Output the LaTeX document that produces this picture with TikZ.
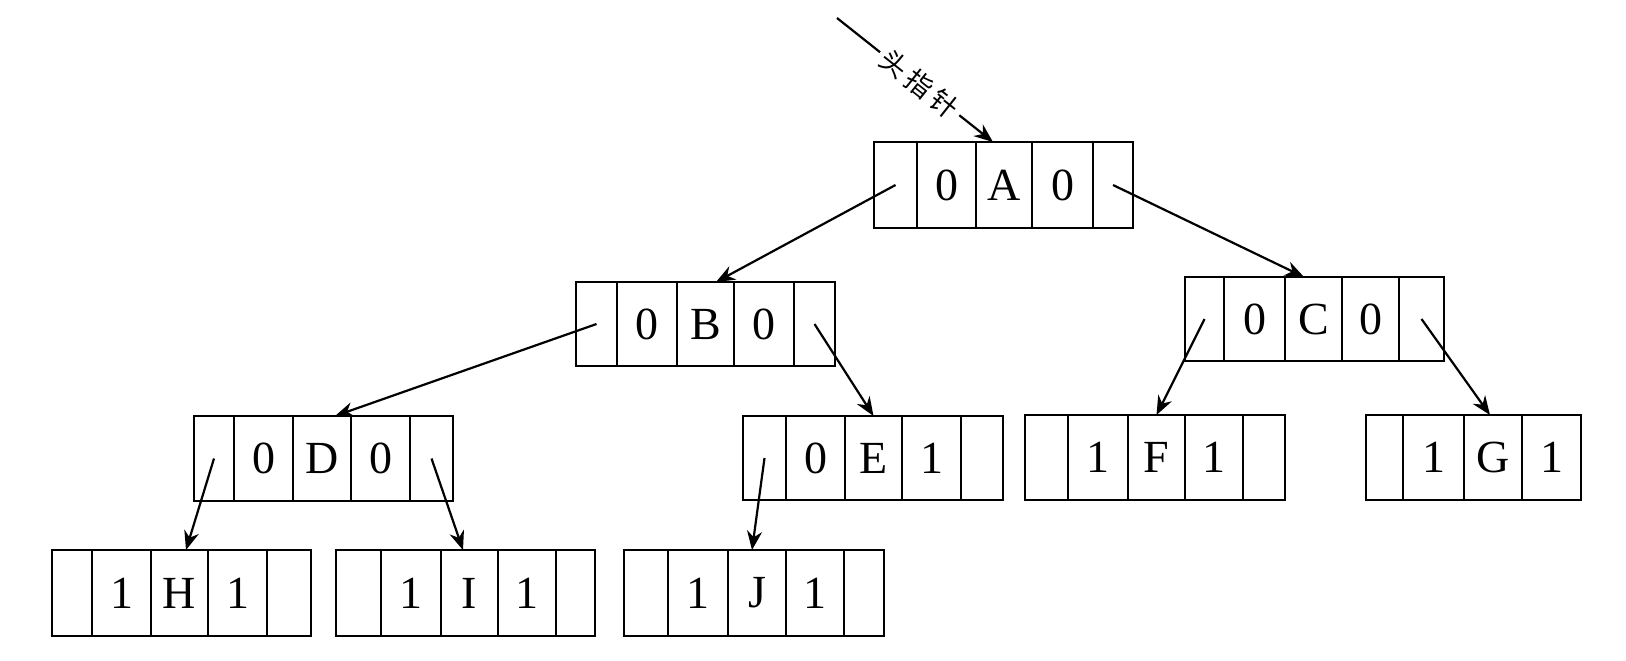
\documentclass[tikz,border=0pt]{standalone}
\usepackage{fontspec}
\setmainfont{Liberation Serif}
\newfontfamily\cjk{Noto Sans CJK SC}
\usetikzlibrary{arrows.meta}
\tikzset{
  cellbox/.style={draw, line width=1.4pt, inner sep=0pt, outer sep=0pt,
    font=\fontsize{23}{23}\selectfont},
  link/.style={line width=1.1pt, -{Stealth[length=9.5pt,width=7.5pt]}},
  ptrlabel/.style={sloped, fill=white, inner sep=2.5pt,
    font=\cjk\fontsize{13.5}{13.5}\selectfont},
}
\newcommand\mycell[6]{\node[cellbox, minimum width={(#3-#2)*0.5pt},
  minimum height={(#5-#4)*0.5pt}] (#1) at ({(#2+#3)/2},{(#4+#5)/2}) {#6};}
\begin{document}
\begin{tikzpicture}[x=0.5pt,y=-0.5pt]
\fill[white] (0,0) rectangle (1626,660);
\useasboundingbox (0,0) rectangle (1626,660);
% A
\mycell{A1}{874}{917}{142}{228}{}
\mycell{A2}{917}{976}{142}{228}{0}
\mycell{A3}{976}{1032}{142}{228}{A}
\mycell{A4}{1032}{1093}{142}{228}{0}
\mycell{A5}{1093}{1133}{142}{228}{}
% B
\mycell{B1}{576}{617}{282}{366}{}
\mycell{B2}{617}{677}{282}{366}{0}
\mycell{B3}{677}{734}{282}{366}{B}
\mycell{B4}{734}{794}{282}{366}{0}
\mycell{B5}{794}{835}{282}{366}{}
% C
\mycell{C1}{1185}{1224}{277}{361}{}
\mycell{C2}{1224}{1285}{277}{361}{0}
\mycell{C3}{1285}{1342}{277}{361}{C}
\mycell{C4}{1342}{1399}{277}{361}{0}
\mycell{C5}{1399}{1444}{277}{361}{}
% D
\mycell{D1}{194}{234}{416}{501}{}
\mycell{D2}{234}{293}{416}{501}{0}
\mycell{D3}{293}{351}{416}{501}{D}
\mycell{D4}{351}{410}{416}{501}{0}
\mycell{D5}{410}{453}{416}{501}{}
% E
\mycell{E1}{743}{786}{416}{500}{}
\mycell{E2}{786}{845}{416}{500}{0}
\mycell{E3}{845}{902}{416}{500}{E}
\mycell{E4}{902}{961}{416}{500}{1}
\mycell{E5}{961}{1003}{416}{500}{}
% F
\mycell{F1}{1025}{1068}{415}{500}{}
\mycell{F2}{1068}{1128}{415}{500}{1}
\mycell{F3}{1128}{1185}{415}{500}{F}
\mycell{F4}{1185}{1243}{415}{500}{1}
\mycell{F5}{1243}{1285}{415}{500}{}
% G
\mycell{G1}{1366}{1403}{415}{500}{}
\mycell{G2}{1403}{1464}{415}{500}{1}
\mycell{G3}{1464}{1522}{415}{500}{G}
\mycell{G4}{1522}{1581}{415}{500}{1}
% H
\mycell{H1}{52}{92}{550}{636}{}
\mycell{H2}{92}{151}{550}{636}{1}
\mycell{H3}{151}{208}{550}{636}{H}
\mycell{H4}{208}{267}{550}{636}{1}
\mycell{H5}{267}{311}{550}{636}{}
% I
\mycell{I1}{336}{381}{550}{636}{}
\mycell{I2}{381}{441}{550}{636}{1}
\mycell{I3}{441}{498}{550}{636}{I}
\mycell{I4}{498}{556}{550}{636}{1}
\mycell{I5}{556}{595}{550}{636}{}
% J
\mycell{J1}{624}{668}{550}{636}{}
\mycell{J2}{668}{728}{550}{636}{1}
\mycell{J3}{728}{786}{550}{636}{J}
\mycell{J4}{786}{844}{550}{636}{1}
\mycell{J5}{844}{884}{550}{636}{}
% head pointer
\coordinate (hp) at (837,18);
\draw[link] (hp) -- node[ptrlabel, pos=0.53] (hplabel) {头\hspace{2.5pt}指\hspace{2.5pt}针} ([xshift=-5.5pt]A3.north);
% links
\draw[link] (A1.center) -- ([xshift=5.25pt]B3.north);
\draw[link] (A5.center) -- ([xshift=-4.75pt]C3.north);
\draw[link] (B1.center) -- ([xshift=6.5pt]D3.north);
\draw[link] (B5.center) -- (E3.north);
\draw[link] (C1.center) -- (F3.north);
\draw[link] (C5.center) -- ([xshift=-1.5pt]G3.north);
\draw[link] (D1.center) -- ([xshift=3.25pt]H3.north);
\draw[link] (D5.center) -- ([xshift=-3.25pt]I3.north);
\draw[link] (E1.center) -- ([xshift=-2.5pt]J3.north);
\end{tikzpicture}
\end{document}
